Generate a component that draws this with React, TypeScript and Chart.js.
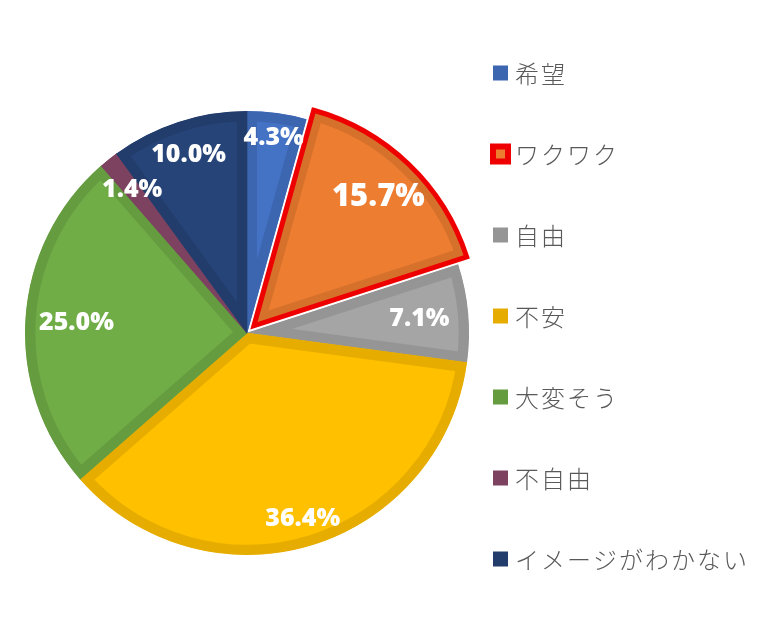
import { useEffect, useRef } from 'react';
import { Chart, registerables } from 'chart.js';

Chart.register(...registerables);

// ---- data ----
const categories = ['希望', 'ワクワク', '自由', '不安', '大変そう', '不自由', 'イメージがわかない'];
const shares = [4.3, 15.7, 7.1, 36.4, 25.0, 1.4, 10.0];

// ---- styles ----
const fillColors = ['#4472C4', '#ED7D31', '#A5A5A5', '#FFC000', '#70AD47', '#8A496A', '#264478'];
const bandColors = ['#3D66B0', '#D6712C', '#959595', '#E6AD00', '#659C40', '#7C4260', '#223D6C'];
const explodeIndex = 1;
const explodePx = 10;
const highlightColor = '#EE0000';
const labelRadiusFrac = [0.89, 0.81, 0.78, 0.87, 0.77, 0.83, 0.85];
const labelFontPx = [25, 31, 25, 25, 25, 25, 25];

const LABEL_FONT = '"Open Sans", "Noto Sans", sans-serif';
const LEGEND_FONT = '"Noto Sans CJK JP", "Noto Sans", sans-serif';

const slicePlugin = {
  id: 'sliceDecor',
  afterDatasetsDraw(chart: any) {
    const ctx = chart.ctx as CanvasRenderingContext2D;
    const meta = chart.getDatasetMeta(0);
    // red outline on the exploded slice
    meta.data.forEach((arc: any, i: number) => {
      if (i !== explodeIndex) return;
      const p = arc.getProps(['x', 'y', 'startAngle', 'endAngle', 'outerRadius', 'circumference'], true);
      const mid = (p.startAngle + p.endAngle) / 2;
      const fix = 1 - Math.sin(Math.min(Math.PI, p.circumference || 0));
      const r = p.outerRadius + explodePx * fix;
      const cx = p.x + Math.cos(mid) * explodePx;
      const cy = p.y + Math.sin(mid) * explodePx;
      ctx.save();
      ctx.beginPath();
      ctx.moveTo(cx, cy);
      ctx.arc(cx, cy, r, p.startAngle, p.endAngle);
      ctx.closePath();
      ctx.lineWidth = 5;
      ctx.lineJoin = 'miter';
      ctx.miterLimit = 10;
      ctx.strokeStyle = highlightColor;
      ctx.stroke();
      ctx.restore();
    });
    // value labels
    meta.data.forEach((arc: any, i: number) => {
      const p = arc.getProps(['x', 'y', 'startAngle', 'endAngle', 'outerRadius'], true);
      const mid = (p.startAngle + p.endAngle) / 2;
      const off = i === explodeIndex ? explodePx : 0;
      const d = off + p.outerRadius * labelRadiusFrac[i];
      const tx = p.x + Math.cos(mid) * d;
      const ty = p.y + Math.sin(mid) * d;
      ctx.save();
      ctx.font = `800 ${labelFontPx[i]}px ${LABEL_FONT}`;
      ctx.fillStyle = '#FFFFFF';
      ctx.textAlign = 'center';
      ctx.textBaseline = 'middle';
      ctx.fillText(`${shares[i].toFixed(1)}%`, tx, ty + 1);
      ctx.restore();
    });
  },
};

const legendPlugin = {
  id: 'sideLegend',
  afterDraw(chart: any) {
    const ctx = chart.ctx as CanvasRenderingContext2D;
    const labels: string[] = chart.data.labels;
    const top = 73;
    const step = 81;
    const boxX = 493;
    const box = 15;
    labels.forEach((label, i) => {
      const cy = top + step * i;
      ctx.save();
      if (i === explodeIndex) {
        ctx.fillStyle = fillColors[i];
        ctx.fillRect(boxX, cy - box / 2, box, box);
        ctx.lineWidth = 6;
        ctx.strokeStyle = highlightColor;
        ctx.strokeRect(boxX, cy - box / 2, box, box);
      } else {
        ctx.fillStyle = bandColors[i];
        ctx.fillRect(boxX, cy - box / 2, box, box);
      }
      ctx.font = `300 24px ${LEGEND_FONT}`;
      (ctx as any).letterSpacing = '2px';
      ctx.fillStyle = '#595959';
      ctx.textAlign = 'left';
      ctx.textBaseline = 'middle';
      ctx.fillText(label, 515, cy + 1);
      ctx.restore();
    });
  },
};

export default function App() {
  const ref = useRef<HTMLCanvasElement | null>(null);

  useEffect(() => {
    document.body.style.margin = '0';
    const canvas = ref.current;
    if (!canvas) return;
    const chart = new Chart(canvas, {
      type: 'pie',
      data: {
        labels: categories,
        datasets: [
          {
            data: shares,
            backgroundColor: fillColors,
            borderColor: bandColors,
            borderWidth: 10,
            borderAlign: 'inner',
            borderJoinStyle: 'miter',
            offset: shares.map((_, i) => (i === explodeIndex ? explodePx * 4 : 0)),
            hoverOffset: 0,
            radius: 222,
          } as any,
        ],
      },
      options: {
        responsive: false,
        animation: false,
        events: [],
        layout: { padding: { left: 0, right: 272, top: 29, bottom: 0 } },
        plugins: {
          legend: { display: false },
          tooltip: { enabled: false },
        },
      },
      plugins: [slicePlugin, legendPlugin],
    });
    return () => chart.destroy();
  }, []);

  return (
    <div style={{ width: 766, height: 637, background: '#FFFFFF' }}>
      <canvas ref={ref} width={766} height={637} style={{ display: 'block' }} />
    </div>
  );
}
